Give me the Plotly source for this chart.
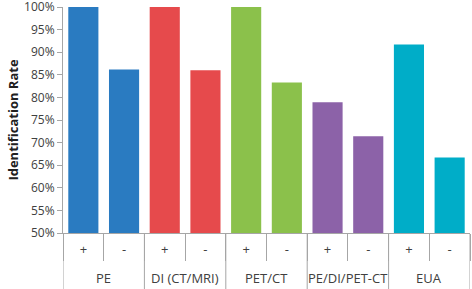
import plotly.graph_objects as go

groups = ["PE", "DI (CT/MRI)", "PET/CT", "PE/DI/PET-CT", "EUA"]
signs = ["+", "-"]
values_pos = [100, 100, 100, 78.9, 91.7]
values_neg = [86.2, 86.0, 83.3, 71.4, 66.7]
group_colors = ["#2A7BC1", "#E64A4C", "#8BC14B", "#8C62A8", "#00ADC8"]
y_ticks = [50, 55, 60, 65, 70, 75, 80, 85, 90, 95, 100]

inner, vals, cols = [], [], []
for g, p, n, c in zip(groups, values_pos, values_neg, group_colors):
    inner += signs
    vals += [p, n]
    cols += [c, c]
xpos = list(range(len(vals)))

W, H = 472, 289
M = dict(l=63, r=2, t=7, b=56)
plot_h = H - M["t"] - M["b"]
axis_col = "#A6A6A6"

fig = go.Figure(go.Bar(
    x=xpos, y=vals,
    marker=dict(color=cols, line=dict(width=0)),
))

# group dividers and group labels (positions from category indices)
shapes, annots = [], []
for i in range(len(groups) + 1):
    xb = 2 * i - 0.5
    shapes.append(dict(type="line", xref="x", yref="paper", x0=xb, x1=xb,
                       y0=0, y1=-(M["b"] + 2) / plot_h, line=dict(color=axis_col, width=1)))
for i, g in enumerate(groups):
    annots.append(dict(text=g, xref="x", yref="paper", x=2 * i + 0.5, y=0,
                       yshift=-45, showarrow=False, yanchor="middle",
                       font=dict(size=13, color="#404040")))

fig.update_layout(
    width=W, height=H,
    margin=dict(**M, autoexpand=False),
    paper_bgcolor="white", plot_bgcolor="white",
    bargap=0.26, showlegend=False,
    font=dict(family="Open Sans", color="#404040"),
    shapes=shapes, annotations=annots,
)
fig.update_yaxes(
    range=[50, 100], tickvals=y_ticks, ticktext=[f"{v}%" for v in y_ticks],
    showgrid=False, zeroline=False, showline=True, linecolor=axis_col,
    ticks="outside", ticklen=5, tickcolor=axis_col,
    tickfont=dict(size=12, color="#404040"), ticklabeloverflow="allow",
    automargin=False,
    title=dict(text="<b>Identification Rate</b>", font=dict(size=13, color="#202020"), standoff=2),
)
fig.update_xaxes(
    range=[-0.5, len(vals) - 0.5], tickvals=xpos, ticktext=inner,
    showgrid=False, zeroline=False, showline=True, linecolor=axis_col,
    ticks="", tickfont=dict(size=13, color="#404040"), ticklabelstandoff=4,
    minor=dict(ticks="outside", tick0=-0.5, dtick=1, ticklen=27, tickcolor=axis_col, showgrid=False),
    automargin=False,
)
fig.write_html("out.html", config={"displayModeBar": False},
               post_script="document.body.style.margin='0';")
